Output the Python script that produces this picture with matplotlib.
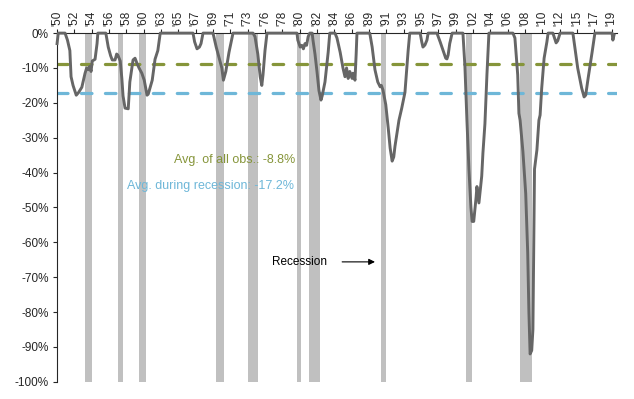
import matplotlib
matplotlib.use("Agg")
import matplotlib.pyplot as plt

plt.rcParams['font.family'] = ['Liberation Sans', 'DejaVu Sans']

# drawdown series (year, % from prior peak)
years = [1950.0, 1950.15, 1951.0, 1951.3, 1951.6, 1951.75, 1952.0, 1952.4, 1952.7, 1953.1,
         1953.5, 1953.7, 1953.9, 1954.1, 1954.25, 1954.4, 1954.75, 1955.0, 1955.1, 1956.1,
         1956.4, 1956.7, 1956.9, 1957.25, 1957.45, 1957.6, 1957.9, 1958.1, 1958.25, 1958.5,
         1958.9, 1959.1, 1959.5, 1959.75, 1960.0, 1960.25, 1960.6, 1960.9, 1961.25, 1961.4,
         1961.9, 1962.25, 1962.6, 1962.9, 1967.0, 1967.2, 1967.5, 1967.8, 1968.0, 1968.25,
         1969.5, 1969.9, 1970.3, 1970.6, 1970.8, 1971.1, 1971.5, 1972.0, 1974.5, 1974.75,
         1975.1, 1975.4, 1975.6, 1975.75, 1976.0, 1976.25, 1980.0, 1980.1, 1980.4, 1980.6,
         1980.8, 1981.0, 1981.2, 1981.4, 1981.6, 1981.9, 1982.0, 1982.25, 1982.5, 1982.75,
         1983.0, 1983.15, 1983.5, 1983.9, 1984.1, 1984.75, 1985.0, 1985.4, 1985.75, 1986.0,
         1986.2, 1986.4, 1986.6, 1986.9, 1987.0, 1987.15, 1987.25, 1987.4, 1987.5, 1989.1,
         1989.4, 1989.75, 1990.1, 1990.4, 1990.55, 1990.75, 1991.1, 1991.4, 1991.65, 1991.9,
         1992.1, 1992.25, 1992.5, 1992.75, 1993.1, 1993.5, 1993.9, 1994.1, 1995.4, 1995.6,
         1995.75, 1996.0, 1996.25, 1996.4, 1997.5, 1997.9, 1998.25, 1998.6, 1998.75, 1998.9,
         1999.1, 1999.4, 2000.75, 2001.0, 2001.25, 2001.5, 2001.75, 2001.9, 2002.1, 2002.4,
         2002.5, 2002.75, 2003.1, 2003.25, 2003.5, 2003.75, 2004.0, 2007.0, 2007.25, 2007.6,
         2007.75, 2007.9, 2008.25, 2008.6, 2008.85, 2009.0, 2009.15, 2009.35, 2009.5, 2009.6,
         2009.7, 2010.0, 2010.25, 2010.4, 2010.6, 2010.9, 2011.25, 2011.4, 2012.0, 2012.2,
         2012.4, 2012.6, 2012.9, 2014.5, 2015.1, 2015.6, 2015.9, 2016.1, 2016.4, 2016.9,
         2017.25, 2019.4, 2019.5, 2019.65]
drawdown = [-3.0, 0, 0, -2, -5, -12.5, -15, -17.8, -17, -15.5,
            -11.5, -10, -10.5, -9.5, -11, -8, -7.5, -3, 0, 0,
            -4, -6.5, -7.7, -7.7, -6, -6.3, -8, -13, -18, -21.5,
            -21.7, -14, -7.7, -7.2, -8.7, -10, -11.5, -13.5, -17.8, -17.5,
            -13.5, -7.5, -5, 0, 0, -2.5, -4.5, -4, -3, 0,
            0, -4, -7.5, -10, -13.5, -11, -5.5, 0, 0, -1,
            -6, -12.5, -15, -12, -5, 0, 0, -2, -4, -3.5,
            -4.5, -3, -3.5, -1, 0, 0, -2, -6, -11, -16.5,
            -19.2, -18, -14, -5.5, 0, 0, -1.4, -5.5, -10, -12.5,
            -10, -13, -11, -13, -11.5, -12.5, -13.5, -6, 0, 0,
            -4, -10.5, -14, -15.4, -15, -16.3, -20.5, -27, -33, -36.7,
            -35.5, -32.5, -28.7, -25, -21.5, -17, -5, 0, 0, -2.5,
            -4, -3.4, -2, 0, 0, -2.5, -4.9, -7.2, -7.4, -6.3,
            -3, 0, 0, -9.6, -25, -39, -50, -54, -54, -47,
            -44, -48.7, -41, -34.4, -26, -12, 0, 0, -1.4, -12,
            -23, -25, -34, -46, -63, -80, -92, -91, -85, -62,
            -39, -33.5, -25, -23.5, -15.8, -7.2, -2.5, 0, 0, -1.4,
            -2.8, -2.2, 0, 0, -10, -15.8, -18.3, -17.8, -13, -5.5,
            0, 0, -2, -0.5]

# NBER recessions (start, end)
rec_start = [1953.5, 1957.58, 1960.25, 1969.92, 1973.83, 1980.0, 1981.5, 1990.5, 2001.17, 2007.92]
rec_end = [1954.37, 1958.29, 1961.08, 1970.83, 1975.17, 1980.5, 1982.83, 1991.17, 2001.83, 2009.42]

avg_all = -8.8
avg_rec = -17.2

tick_labels = ["'50", "'52", "'54", "'56", "'58", "'60", "'63", "'65", "'67", "'69", "'71",
               "'73", "'76", "'78", "'80", "'82", "'84", "'86", "'89", "'91", "'93", "'95",
               "'97", "'99", "'02", "'04", "'06", "'08", "'10", "'12", "'15", "'17", "'19"]
tick_pos = [1950 + 26 * i / 12 for i in range(len(tick_labels))]

olive = '#86953a'
blue = '#6eb7d8'

fig = plt.figure(figsize=(6.34, 3.99), dpi=100)
ax = fig.add_axes([0.09, 0.043, 0.883, 0.874])

for s, e in zip(rec_start, rec_end):
    ax.axvspan(s, e, color='#c0c0c0', lw=0, zorder=1)

l1, = ax.plot([1950, 2020], [avg_all, avg_all], color=olive, lw=2.3, zorder=2,
              dash_capstyle='round')
l1.set_dashes((3.3, 4.2))
l2, = ax.plot([1950, 2020], [avg_rec, avg_rec], color=blue, lw=2.3, zorder=2,
              dash_capstyle='round')
l2.set_dashes((3.3, 4.2))

ax.plot(years, drawdown, color='#666666', lw=2.1, zorder=5, clip_on=False)

ax.text(1979.75, -36.4, 'Avg. of all obs.: -8.8%', color=olive, fontsize=9,
        ha='right', va='center')
ax.text(1979.6, -43.8, 'Avg. during recession: -17.2%', color=blue, fontsize=9,
        ha='right', va='center')
ax.text(1983.75, -65.6, 'Recession', color='black', fontsize=8.5, ha='right', va='center')
ax.annotate('', xy=(1990.1, -65.6), xytext=(1985.3, -65.6),
            arrowprops=dict(arrowstyle='-|>', color='black', lw=0.8, mutation_scale=9))

ax.set_xlim(1950, 2020)
ax.set_ylim(-100, 0)
ax.set_yticks(range(-100, 1, 10))
ax.set_yticklabels([f'{v}%' for v in range(-100, 1, 10)])
ax.xaxis.tick_top()
ax.set_xticks(tick_pos)
ax.set_xticklabels(tick_labels, rotation=90)
ax.tick_params(axis='x', length=3, pad=2, labelsize=8.5, colors='#262626')
ax.tick_params(axis='y', length=3, pad=3, labelsize=8.5, colors='#262626')

for side in ['right', 'bottom']:
    ax.spines[side].set_visible(False)
ax.spines['left'].set_color('#262626')
ax.spines['top'].set_color('#262626')
ax.spines['left'].set_zorder(4)
ax.spines['top'].set_zorder(4)

fig.savefig('out.png', dpi=100)
